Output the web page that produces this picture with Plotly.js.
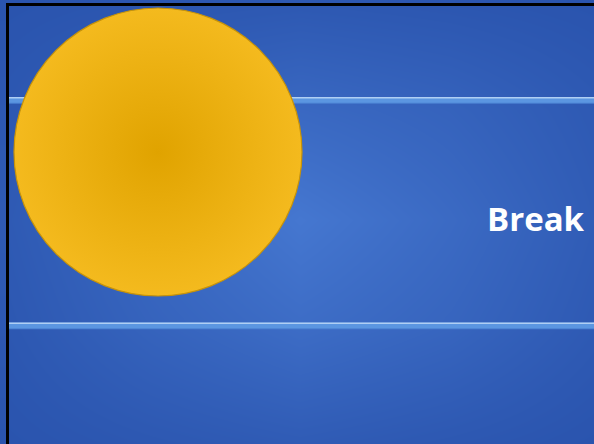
<!DOCTYPE html>
<html>
<head>
<meta charset="utf-8">
<script src="https://cdn.plot.ly/plotly-3.0.1.min.js"></script>
<style>html,body{margin:0;padding:0;background:#fff;}#chart{width:594px;height:444px;}</style>
</head>
<body>
<div id="chart"></div>
<script>
// Background brightness grid
const bgX = [9, 150, 300, 450, 594];
const bgY = [6, 110, 220, 330, 444];
const bgZ = [
  [0.05, 0.12, 0.18, 0.12, 0.05],
  [0.15, 0.40, 0.60, 0.45, 0.20],
  [0.22, 0.60, 1.00, 0.65, 0.28],
  [0.15, 0.45, 0.70, 0.50, 0.20],
  [0.05, 0.15, 0.25, 0.15, 0.05]
];
// Sun disc
const sunX = [158];
const sunY = [152];
// Title text
const labels = ["Break"];
// Horizontal rule positions
const ruleY = [100, 325.5];
const ruleX = [9, 594];

const W = 594, H = 444;

const traces = [
  {
    type: 'heatmap', x: bgX, y: bgY, z: bgZ, zsmooth: 'best',
    colorscale: [[0, '#2a54ae'], [1, '#4577d0']], showscale: false, hoverinfo: 'skip'
  }
];

ruleY.forEach(function (y) {
  traces.push({ type: 'scatter', mode: 'lines', x: ruleX, y: [y + 0.5, y + 0.5], hoverinfo: 'skip',
    line: { color: '#4a80d2', width: 6.5 } });
  traces.push({ type: 'scatter', mode: 'lines', x: ruleX, y: [y, y], hoverinfo: 'skip',
    line: { color: '#5b96e1', width: 5.5 } });
  traces.push({ type: 'scatter', mode: 'lines', x: ruleX, y: [y - 2.3, y - 2.3], hoverinfo: 'skip',
    line: { color: '#b0cff4', width: 1.6 } });
});

traces.push({
  type: 'scatter', mode: 'markers', x: sunX, y: sunY, hoverinfo: 'skip',
  marker: {
    size: 288, color: '#f4ba1e',
    gradient: { type: 'radial', color: '#e0a300' },
    line: { width: 1.2, color: '#c89308' }
  }
});

const shapes = [];
// black frame edges
shapes.push({ type: 'rect', xref: 'x', yref: 'y', x0: 6, x1: 9, y0: 3, y1: H, fillcolor: '#000', line: { width: 0 } });
shapes.push({ type: 'rect', xref: 'x', yref: 'y', x0: 6, x1: W, y0: 3, y1: 6, fillcolor: '#000', line: { width: 0 } });

const layout = {
  width: W, height: H,
  margin: { l: 0, r: 0, t: 0, b: 0, pad: 0 },
  paper_bgcolor: '#ffffff', plot_bgcolor: '#ffffff',
  showlegend: false,
  xaxis: { range: [0, W], visible: false, fixedrange: true },
  yaxis: { range: [H, 0], visible: false, fixedrange: true },
  shapes: shapes,
  annotations: [{
    text: '<b>' + labels[0] + '</b>', x: 485, y: 218, xref: 'x', yref: 'y',
    xanchor: 'left', yanchor: 'middle', showarrow: false,
    font: { family: 'Open Sans, sans-serif', size: 33, color: '#ffffff' }
  }]
};

Plotly.newPlot('chart', traces, layout, { staticPlot: true, displayModeBar: false });
</script>
</body>
</html>
